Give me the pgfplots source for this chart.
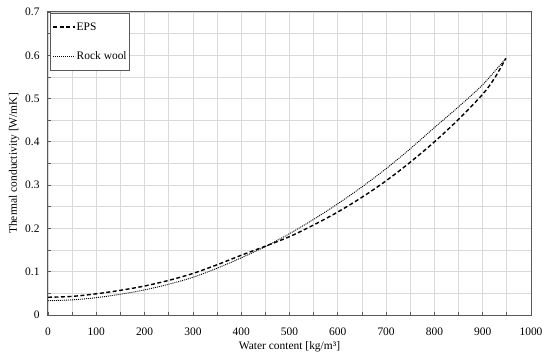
\documentclass[border=0pt]{standalone}
\usepackage{pgfplots}
\pgfplotsset{compat=1.18}
\usepackage{fontspec}
\setmainfont{Liberation Serif}
\definecolor{gridc}{RGB}{217,217,217}
\definecolor{axc}{RGB}{89,89,89}
\begin{document}
\begin{tikzpicture}
\useasboundingbox (-48bp,-42bp) rectangle (502bp,315bp);
\begin{axis}[
  at={(0,0)}, anchor=south west,
  scale only axis, width=483bp, height=303bp,
  xmin=0, xmax=1000, ymin=0, ymax=0.7,
  xtick={0,100,...,1000}, ytick={0,0.1,...,0.7},
  minor xtick={50,150,...,950}, minor ytick={0.05,0.15,...,0.65},
  grid=both,
  major grid style={gridc, line width=0.8bp},
  minor grid style={gridc, line width=0.8bp},
  axis line style={axc, line width=1bp},
  tick style={axc, line width=0.8bp},
  major tick length=3bp, minor tick length=3bp,
  tick align=inside, tick pos=left,
  tick label style={font=\fontsize{11.5}{13}\selectfont},
  /pgf/number format/assume math mode=true,
  /pgf/number format/1000 sep={},
  yticklabel style={/pgf/number format/fixed, /pgf/number format/precision=1},
  xticklabel style={yshift=-9bp},
  yticklabel style={xshift=-5bp},
  scaled y ticks=false,
  xlabel={Water content [kg/m³]},
  ylabel={Thermal conductivity [W/mK]},
  label style={font=\fontsize{11.5}{13}\selectfont},
  xlabel style={at={(axis description cs:0.5,-0.105)}, anchor=center},
  ylabel style={at={(axis description cs:-0.07,0.5)}, anchor=center},
  legend style={at={(axis description cs:0.004,0.996)}, anchor=north west,
    draw=axc, line width=0.8bp, fill=white, font=\fontsize{11.5}{13}\selectfont,
    row sep=16bp, inner xsep=2bp, inner ysep=7bp,
    nodes={inner xsep=1bp}},
  legend cell align=left,
  legend image code/.code={\draw[#1] (0bp,0bp) -- (22bp,0bp);},
]
\addplot[black, line width=1.4bp, dash pattern=on 4bp off 2.5bp, smooth] coordinates {
(0,0.041) (50,0.043) (100,0.049) (150,0.057) (200,0.067) (250,0.080)
(300,0.096) (350,0.116) (400,0.138) (450,0.159) (500,0.181) (550,0.208)
(600,0.238) (650,0.272) (700,0.310) (750,0.353) (800,0.400) (850,0.452)
(900,0.510) (925,0.548) (948,0.593)};
\addlegendentry{EPS}
\addplot[black, line width=0.9bp, dash pattern=on 1bp off 1bp, smooth] coordinates {
(0,0.033) (50,0.035) (100,0.040) (150,0.048) (200,0.058) (250,0.071)
(300,0.087) (350,0.108) (400,0.132) (450,0.158) (500,0.188) (550,0.221)
(600,0.257) (650,0.296) (700,0.338) (750,0.384) (800,0.433) (850,0.481)
(900,0.532) (948,0.593)};
\addlegendentry{Rock wool}
\end{axis}
\end{tikzpicture}
\end{document}
